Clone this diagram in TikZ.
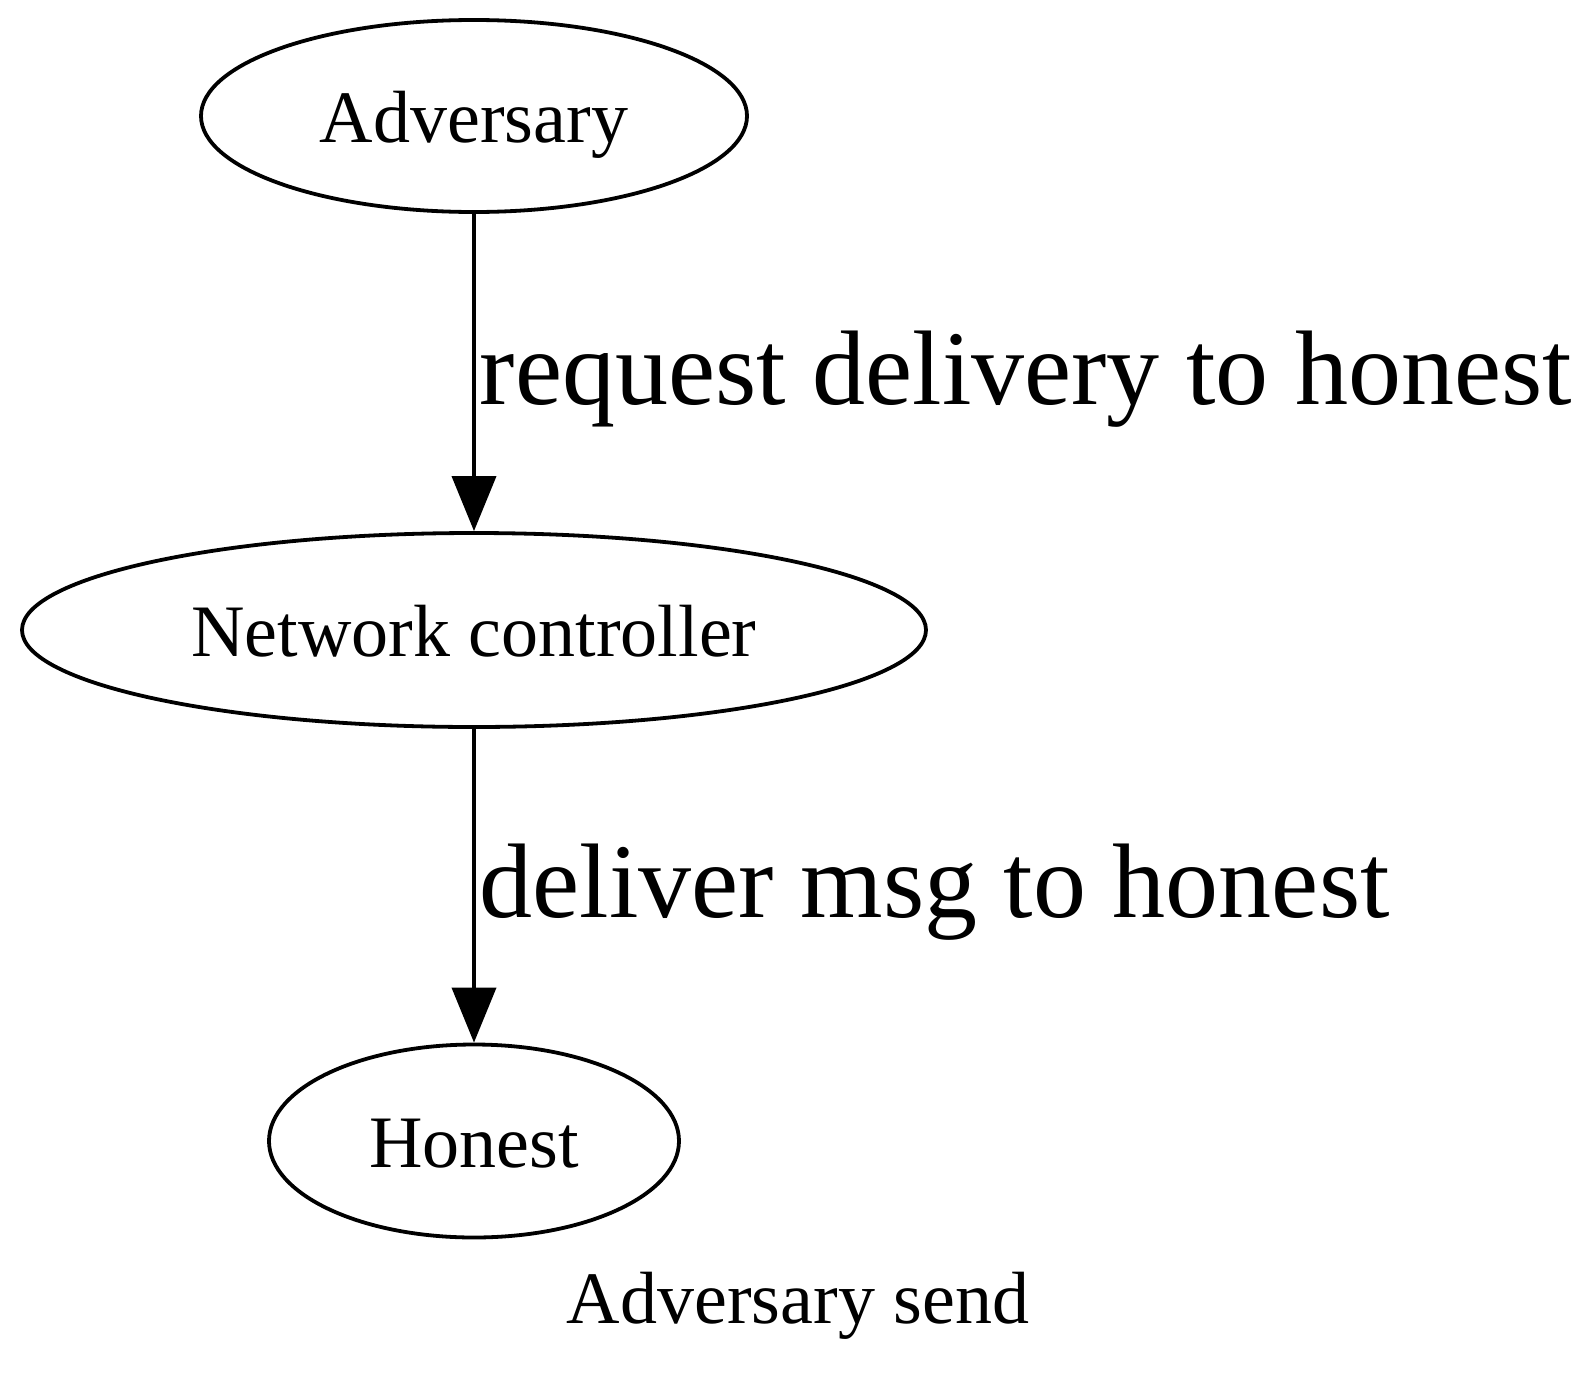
\documentclass[tikz,border=0pt]{standalone}
\usepackage{fontspec}
\setmainfont{Liberation Serif}
\usetikzlibrary{shapes.geometric,arrows.meta,positioning}

\begin{document}
\begin{tikzpicture}[x=0.5pt,y=-0.5pt,
        party/.style={draw,ellipse,line width=1.9pt,inner sep=0pt,text height=26pt,text depth=0pt,font=\fontsize{37}{44}\selectfont},
        msg/.style={-{Triangle[length=27.5pt,width=22pt]},line width=1.9pt},
        msglabel/.style={pos=0.6,anchor=base west,inner sep=0pt,xshift=2pt,font=\fontsize{53}{64}\selectfont}]
            \useasboundingbox (0,0) rectangle (1596,1392);

            \node[party,minimum width=273pt,minimum height=96pt] (adv) at (474,116) {Adversary};
            \node[party,minimum width=452pt,minimum height=97pt] (net) at (474,630) {Network controller};
            \node[party,minimum width=205pt,minimum height=96.5pt] (hon) at (474,1141) {Honest};

            \draw[msg] (adv) -- (net) node[msglabel]{request delivery to honest};
            \draw[msg] (net) -- (hon) node[msglabel]{deliver msg to honest};

            \node[anchor=base,inner sep=0pt,font=\fontsize{37}{44}\selectfont] (title) at (798,1323) {Adversary send};
        \end{tikzpicture}
\end{document}
